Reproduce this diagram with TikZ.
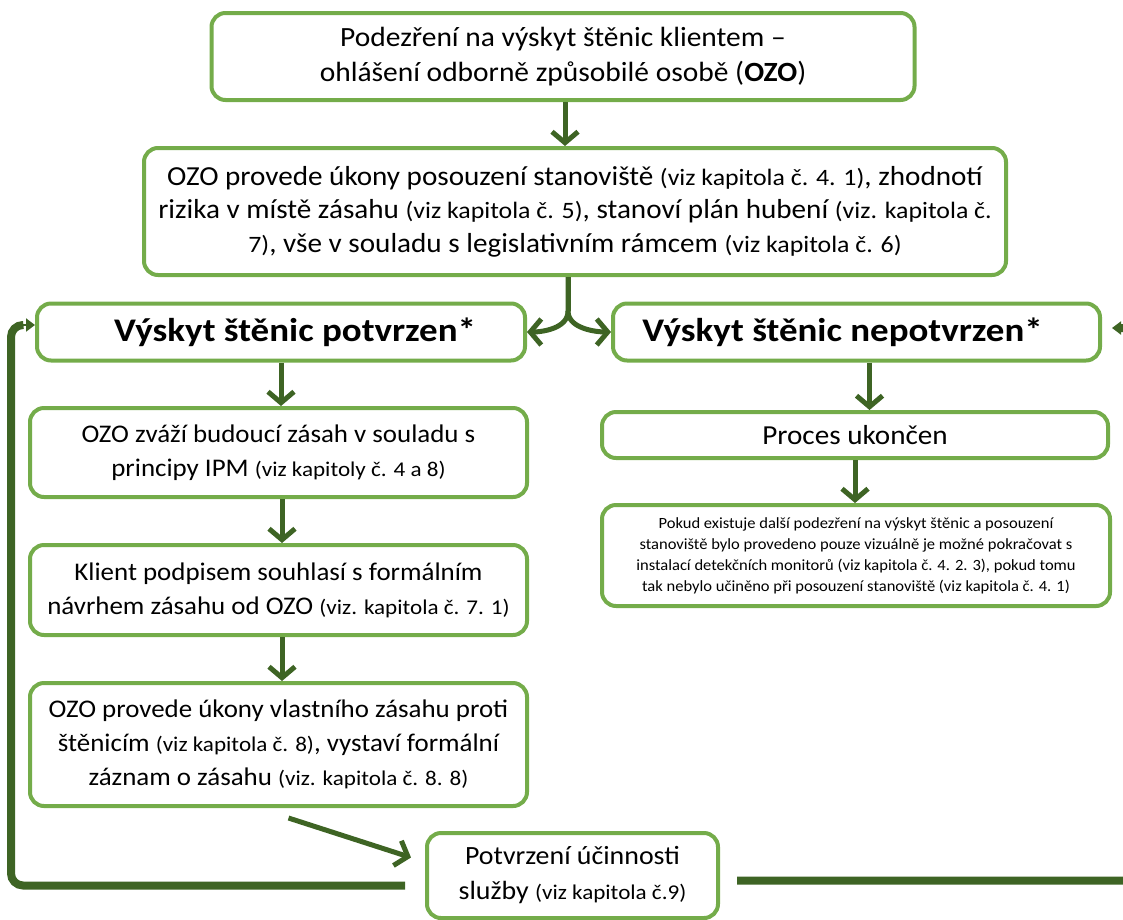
\documentclass[tikz,border=0pt]{standalone}
\usepackage{fontspec}
\setmainfont{Carlito}[FakeStretch=1.06]
\newfontfamily\smfont{Carlito}[FakeStretch=1.1]
\newfontfamily\headfont{Carlito}[FakeStretch=1.12]
\usetikzlibrary{arrows.meta}
\definecolor{boxgreen}{HTML}{74AC4A}
\definecolor{arrgreen}{HTML}{3E6424}
\newcommand{\smtxt}[1]{{\smfont\fontsize{21}{34}\selectfont #1}}
\newcommand{\smtxtb}[1]{{\smfont\fontsize{23.5}{33}\selectfont #1}}
\tikzset{
  box/.style={draw=boxgreen, line width=4pt, rounded corners=14pt, fill=white,
    align=center, inner sep=0pt, font=\fontsize{27}{35}\selectfont},
  lbox/.style={box, font=\fontsize{25.4}{34}\selectfont},
  headbox/.style={box, font=\headfont\bfseries\fontsize{33}{34}\selectfont},
  smallbox/.style={box, font=\fontsize{15.6}{21}\selectfont},
  arr/.style={draw=arrgreen, line width=5pt, -{Straight Barb[length=11pt,width=26pt]}},
  loopline/.style={draw=arrgreen, line width=8pt, rounded corners=12pt},
}
\begin{document}
\begin{tikzpicture}[x=1pt,y=-1pt]
\useasboundingbox (0,0) rectangle (1123,919);
\clip (0,0) rectangle (1123,919);
\node[box, minimum width=703pt, minimum height=87pt, font=\fontsize{27.8}{35}\selectfont] (b1) at (563,56.5)
  {Podezření na výskyt štěnic klientem --\\ohlášení odborně způsobilé osobě (\textbf{OZO})};
\node[box, minimum width=862pt, minimum height=127pt, font=\fontsize{27.5}{33.5}\selectfont] (b2) at (575,211.5)
  {OZO provede úkony posouzení stanoviště \smtxtb{(viz kapitola č. 4. 1)}, zhodnotí\\
   rizika v místě zásahu \smtxtb{(viz kapitola č. 5)}, stanoví plán hubení \smtxtb{(viz. kapitola č.}\\
   \smtxtb{7)}, vše v souladu s legislativním rámcem \smtxtb{(viz kapitola č. 6)}};
\node[headbox, minimum width=488pt, minimum height=57pt] (hl) at (281,332) {\hspace*{28pt}Výskyt štěnic potvrzen*};
\node[headbox, minimum width=487pt, minimum height=57pt] (hr) at (856.5,332) {Výskyt štěnic nepotvrzen*\hspace*{28pt}};
\node[lbox, minimum width=497pt, minimum height=89pt] (l1) at (278.5,452.5)
  {OZO zváží budoucí zásah v souladu s\\principy IPM \smtxt{(viz kapitoly č. 4 a 8)}};
\node[lbox, minimum width=497pt, minimum height=90pt] (l2) at (278.5,590)
  {Klient podpisem souhlasí s formálním\\návrhem zásahu od OZO \smtxt{(viz. kapitola č. 7. 1)}};
\node[lbox, minimum width=497pt, minimum height=123pt] (l3) at (278.5,744.5)
  {OZO provede úkony vlastního zásahu proti\\štěnicím \smtxt{(viz kapitola č. 8)}, vystaví formální\\záznam o zásahu \smtxt{(viz. kapitola č. 8. 8)}};
\node[box, minimum width=291pt, minimum height=85pt, font=\fontsize{26.3}{35}\selectfont] (pot) at (572.5,875.5)
  {Potvrzení účinnosti\\služby \smtxt{(viz kapitola č.9)}};
\node[box, minimum width=506pt, minimum height=46pt, font=\fontsize{27.5}{34}\selectfont] (pr) at (855,435) {Proces ukončen};
\node[smallbox, minimum width=508pt, minimum height=101pt] (sb) at (856,555.5)
  {Pokud existuje další podezření na výskyt štěnic a posouzení\\
   stanoviště bylo provedeno pouze vizuálně je možné pokračovat s\\
   instalací detekčních monitorů (viz kapitola č. 4. 2. 3), pokud tomu\\
   tak nebylo učiněno při posouzení stanoviště (viz kapitola č. 4. 1)};
% arrows
\draw[arr] (b1.south) ++(2,0) coordinate (a1s) -- (a1s |- b2.north);
\draw[arr] ([xshift=-7pt]b2.south) coordinate (sp) -- ++(0,34) .. controls ++(0,18) and ++(14,0) .. (hl.east);
\draw[arr] (sp) ++(0,34) coordinate (spm) .. controls ++(0,18) and ++(-14,0) .. (hr.west);
\draw[draw=arrgreen, line width=5pt] (sp) -- (spm);
\draw[arr] (hl.south) -- (l1.north -| hl.south);
\draw[arr] (l1.south) ++(3.5,0) coordinate (a2) -- (a2 |- l2.north);
\draw[arr] (l2.south) ++(3.5,0) coordinate (a3) -- (a3 |- l3.north);
\draw[arr] ([xshift=13pt]hr.south) coordinate (a4) -- (a4 |- pr.north);
\draw[arr] (pr.south) -- (pr.south |- sb.north);
\coordinate (d1) at ([shift={(10,10)}]l3.south);
\draw[arr] (d1) -- ([shift={(-14,-18)}]pot.west);
% feedback loops
\draw[loopline] ([shift={(-20,10)}]pot.west) -- (11,885.5) -- (11,325) -- (22,325);
\draw[draw=arrgreen, -{Triangle[length=9pt,width=13pt]}, line width=2pt] (20,325) -- (hl.west |- 0,325);
\draw[loopline] ([shift={(17,5)}]pot.east) -- (1140,880.5) -- (1140,328) -- (1120,328);
\draw[draw=arrgreen, -{Triangle[length=9pt,width=13pt]}, line width=2pt] (1122,328) -- ([xshift=10pt]hr.east |- 0,328);
\end{tikzpicture}
\end{document}
